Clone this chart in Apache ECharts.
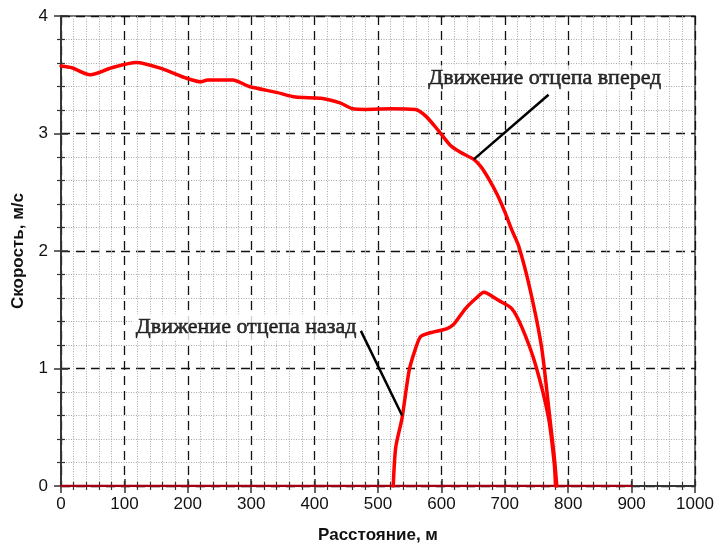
<!DOCTYPE html>
<html>
<head>
<meta charset="utf-8">
<script src="https://cdn.jsdelivr.net/npm/echarts@6/dist/echarts.min.js"></script>
<style>html,body{margin:0;padding:0;background:#fff}#c{width:717px;height:547px}</style>
</head>
<body>
<div id="c"></div>
<script>
// Distance (m) and speed (m/s): forward movement of the cut
const forwardX = [0,17,46,80,119,160,198,221,231,271,297,340,370,410,440,460,480,520,559,575,596,614,630,651,662,674,688,701,711,722,740,758,771,778,782];
const forwardY = [3.575,3.56,3.50,3.56,3.605,3.55,3.47,3.44,3.455,3.455,3.40,3.35,3.31,3.30,3.26,3.21,3.205,3.21,3.205,3.15,3.02,2.90,2.84,2.78,2.72,2.62,2.48,2.32,2.18,2.04,1.67,1.18,0.58,0.25,0];
// Backward movement of the cut
const backwardX = [524,528,538,549,558,567,580,609,620,638,655,667,672,690,711,727,748,769,778,780];
const backwardY = [0,0.33,0.58,0.98,1.15,1.27,1.30,1.34,1.38,1.51,1.60,1.65,1.64,1.58,1.51,1.35,1.04,0.58,0.19,0];
// Zero-speed baseline
const baseX = [0,900];
const baseY = [0,0];
// Annotation pointer lines
const pointerForwardX = [651,769];
const pointerForwardY = [2.78,3.33];
const pointerBackX = [473,538];
const pointerBackY = [1.32,0.60];
// Annotation texts and anchors
const annoTexts = ['Движение отцепа вперед','Движение отцепа назад'];
const annoX = [763,292];
const annoY = [3.47,1.35];
// Axes
const xTitle = 'Расстояние, м';
const yTitle = 'Скорость, м/с';
const xMin = 0, xMax = 1000, xStep = 100;
const yMin = 0, yMax = 4, yStep = 1;

const zip = (a,b)=>a.map((v,i)=>[v,b[i]]);
const chart = echarts.init(document.getElementById('c'), null, {renderer:'canvas'});
const tickFont = {fontFamily:'Liberation Sans, Arial, sans-serif', fontSize:17, color:'#111'};
function xAx(inside, show){
  return {type:'value', min:xMin, max:xMax, interval:xStep, position:'bottom', gridIndex:0,
    axisLine:{show:true, onZero:false, lineStyle:{color:'#333', width:1.5}},
    axisTick:{show:true, inside:inside, length:7, lineStyle:{color:'#333', width:1.5}},
    minorTick:{show:true, splitNumber:5, length:4, lineStyle:{color:'#333', width:1.2}},
    axisLabel:{show:show, margin:10, formatter:v=>String(v), ...tickFont},
    splitLine:{show:show, lineStyle:{color:'#111', width:1.3, type:[9,6]}},
    minorSplitLine:{show:show, lineStyle:{color:'#aaa', width:1, type:[1,1.5]}},
    name: show ? xTitle : '', nameLocation:'middle', nameGap:41,
    nameTextStyle:{fontFamily:'Liberation Sans, Arial, sans-serif', fontWeight:'bold', fontSize:17, color:'#111'}
  };
}
function yAx(inside, show){
  return {type:'value', min:yMin, max:yMax, interval:yStep, position:'left', gridIndex:0,
    axisLine:{show:true, onZero:false, lineStyle:{color:'#333', width:1.5}},
    axisTick:{show:true, inside:inside, length:7, lineStyle:{color:'#333', width:1.5}},
    minorTick:{show:true, splitNumber:5, length:4, lineStyle:{color:'#333', width:1.2}},
    axisLabel:{show:show, margin:13, formatter:v=>String(v), ...tickFont},
    splitLine:{show:show, lineStyle:{color:'#111', width:1.3, type:[9,6]}},
    minorSplitLine:{show:show, lineStyle:{color:'#aaa', width:1, type:[1,1.5]}},
    name: show ? yTitle : '', nameLocation:'middle', nameGap:34,
    nameTextStyle:{fontFamily:'Liberation Sans, Arial, sans-serif', fontWeight:'bold', fontSize:17, color:'#111'}
  };
}
const lineS = (data, color, width, z) => ({type:'line', data, symbol:'none', smooth:0.25, z:z,
  lineStyle:{color, width, cap:'round', join:'round'}, silent:true, animation:false});
chart.setOption({
  backgroundColor:'#fff',
  animation:false,
  grid:{left:61, right:22, top:16, bottom:61, containLabel:false, outerBoundsMode:'none',
    show:true, borderColor:'#444', borderWidth:1.5, backgroundColor:'#fff'},
  xAxis:[xAx(false,true), xAx(true,false)],
  yAxis:[yAx(false,true), yAx(true,false)],
  series:[
    lineS(zip(baseX,baseY), '#a00010', 2.5, 3),
    lineS(zip(forwardX,forwardY), '#ff0000', 3.5, 5),
    lineS(zip(backwardX,backwardY), '#ff0000', 3.5, 5),
    {type:'line', data:zip(pointerForwardX,pointerForwardY), symbol:'none', z:6, animation:false, lineStyle:{color:'#000', width:2.5}},
    {type:'line', data:zip(pointerBackX,pointerBackY), symbol:'none', z:6, animation:false, lineStyle:{color:'#000', width:2.5}},
    {type:'scatter', symbolSize:0, z:7, animation:false,
      data: annoX.map((x,i)=>({value:[x, annoY[i]], name:annoTexts[i]})),
      label:{show:true, position:'inside', formatter:p=>p.name,
        fontFamily:'Liberation Serif, Times New Roman, serif', fontSize:22, color:'#000',
        textBorderColor:'#000', textBorderWidth:0.6,
        backgroundColor:'#fff', padding:[2,3]}}
  ]
});
</script>
</body>
</html>
